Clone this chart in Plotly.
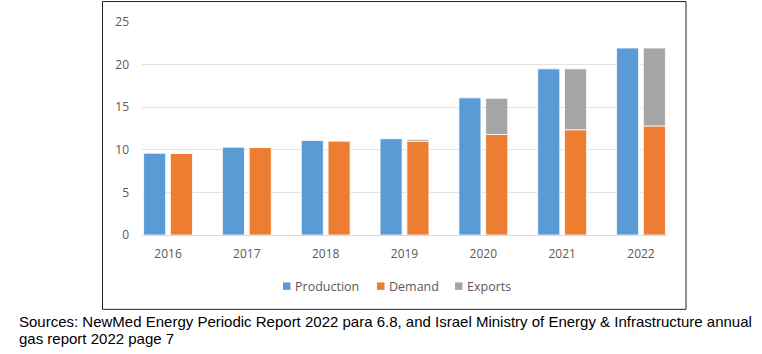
import plotly.graph_objects as go

years = ["2016", "2017", "2018", "2019", "2020", "2021", "2022"]
production = [9.6, 10.3, 11.1, 11.3, 16.1, 19.5, 21.95]
demand = [9.6, 10.3, 11.05, 11.0, 11.8, 12.35, 12.8]
exports = [0.0, 0.0, 0.0, 0.2, 4.25, 7.15, 9.15]
yticks = [0, 5, 10, 15, 20, 25]
series_names = ["Production", "Demand", "Exports"]
series_colors = ["#5B9BD5", "#ED7D31", "#A5A5A5"]
source_lines = [
    "Sources: NewMed Energy Periodic Report 2022 para 6.8, and Israel Ministry of Energy &amp; Infrastructure annual",
    "gas report 2022 page 7",
]

W, H = 762, 354
L, R, T, B = 142, 667, 22, 235.5

fig = go.Figure()
fig.add_bar(x=years, y=production, name=series_names[0], marker_color=series_colors[0],
            marker_line=dict(color="#ffffff", width=0.8), width=0.28, offset=-0.31)
fig.add_bar(x=years, y=demand, name=series_names[1], marker_color=series_colors[1],
            marker_line=dict(color="#ffffff", width=0.8), width=0.28, offset=0.03)
fig.add_bar(x=years, y=exports, base=demand, name=series_names[2], marker_color=series_colors[2],
            marker_line=dict(color="#ffffff", width=0.8), width=0.28, offset=0.03)

pw = R - L
ph = B - T
def px(x):
    return (x - L) / pw
def py(y):
    return (B - y) / ph

fig.update_layout(
    width=W, height=H,
    margin=dict(l=L, r=W - R, t=T, b=H - B, pad=0),
    paper_bgcolor="white", plot_bgcolor="white",
    barmode="overlay",
    showlegend=False,
    font=dict(family="Open Sans, sans-serif", size=12, color="#595959"),
)
fig.update_xaxes(type="category", range=[-0.33, 6.33], showgrid=False, showline=True,
                 linecolor="#D9D9D9", linewidth=1, ticks="", ticklabelstandoff=8,
                 tickfont=dict(size=12, color="#595959"), fixedrange=True)
fig.update_yaxes(range=[0, 25], tickvals=yticks, showgrid=True, gridcolor="#E3E3E3",
                 gridwidth=1, zeroline=False, showline=False, ticks="",
                 ticklabelstandoff=12, tickfont=dict(size=12, color="#595959"))

# outer frame
fig.add_shape(type="rect", xref="paper", yref="paper",
              x0=px(102.5), x1=px(686), y0=py(310), y1=py(1.5),
              line=dict(color="#222222", width=1), fillcolor="rgba(0,0,0,0)", layer="below")

# legend (square swatch + label)
legend_x = [283, 377, 455]
for name, color, lx in zip(series_names, series_colors, legend_x):
    fig.add_shape(type="rect", xref="paper", yref="paper",
                  x0=px(lx), x1=px(lx + 7.5), y0=py(290.5), y1=py(283),
                  line=dict(width=0), fillcolor=color)
    fig.add_annotation(xref="paper", yref="paper", x=px(lx + 10), y=py(287),
                       xanchor="left", yanchor="middle", showarrow=False, text=name,
                       font=dict(family="Open Sans, sans-serif", size=12.5, color="#595959"))

# source note
for i, line in enumerate(source_lines):
    fig.add_annotation(xref="paper", yref="paper", x=px(17), y=py(322 + 17 * i),
                       xanchor="left", yanchor="middle", align="left", showarrow=False,
                       text=line,
                       font=dict(family="Liberation Sans, Arial, sans-serif", size=15, color="#000000"))

fig.write_html("out.html")
